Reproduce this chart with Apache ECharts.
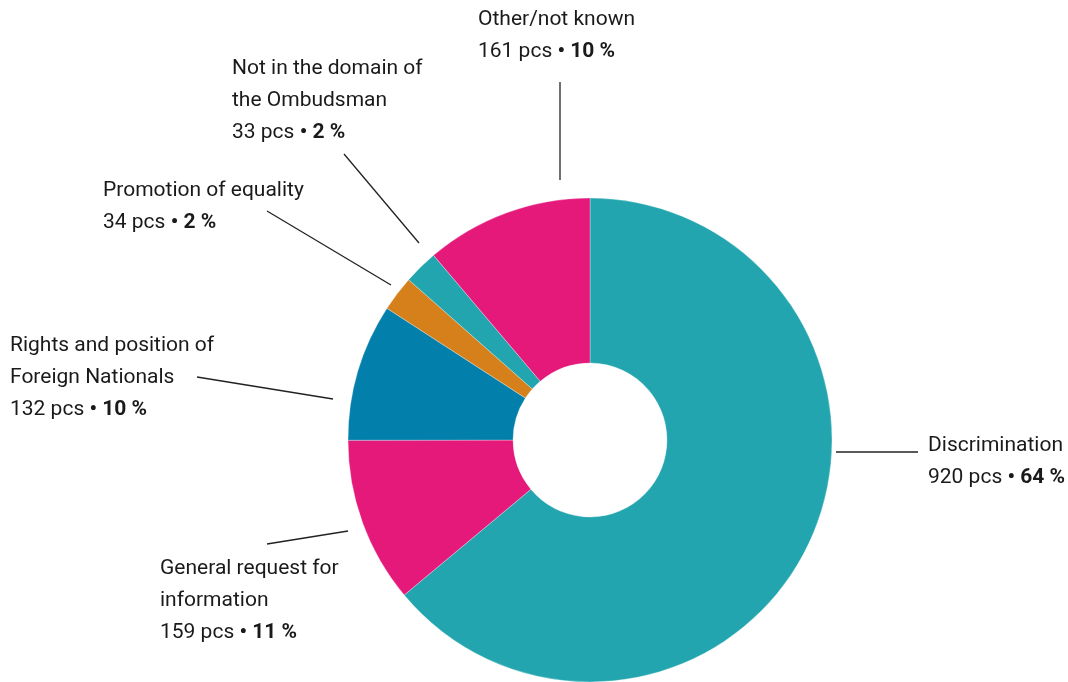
<!DOCTYPE html>
<html>
<head>
<meta charset="utf-8">
<script src="https://cdn.jsdelivr.net/npm/echarts@6/dist/echarts.min.js"></script>
<style>
  html, body { margin: 0; padding: 0; background: #fff; }
  #chart { width: 1068px; height: 682px; }
</style>
</head>
<body>
<div id="chart"></div>
<script>
// slices clockwise from 12 o'clock
const categories = ['Discrimination', 'General request for information', 'Rights and position of Foreign Nationals', 'Promotion of equality', 'Not in the domain of the Ombudsman', 'Other/not known']
const labelNames = ['Discrimination', 'General request for\ninformation', 'Rights and position of\nForeign Nationals', 'Promotion of equality', 'Not in the domain of\nthe Ombudsman', 'Other/not known']
const counts = [920, 159, 132, 34, 33, 161]
const shares = ['64 %', '11 %', '10 %', '2 %', '2 %', '10 %']
const colors = ['#22a5ae', '#e4197a', '#037fab', '#d5801b', '#22a5ae', '#e4197a']

// label block top-left + leader line, by slice
const labelPos = [
  { x: 928, y: 430, line: [[836, 452], [918, 452]] },
  { x: 160, y: 553, line: [[348, 531], [267, 544]] },
  { x: 10, y: 330, line: [[333, 399], [197, 377]] },
  { x: 103, y: 175, line: [[391, 285], [267, 211]] },
  { x: 232, y: 53, line: [[419, 243], [344, 154]] },
  { x: 478, y: 4, line: [[560, 180], [560, 82]] },
]

const chart = echarts.init(document.getElementById('chart'))

const txt = { fontSize: 21, lineHeight: 32, color: '#1a1a1a', fontFamily: 'Roboto' }

const option = {
  animation: false,
  textStyle: { fontFamily: 'Roboto' },
  series: [{
    type: 'pie',
    center: [590, 440],
    radius: [77, 242],
    startAngle: 90,
    clockwise: true,
    avoidLabelOverlap: false,
    itemStyle: { borderColor: '#fff', borderWidth: 0.3 },
    label: {
      show: true,
      position: 'outside',
      formatter: (p) => '{n|' + labelNames[p.dataIndex].split('\n').join('}\n{n|') + '}\n{n|' + counts[p.dataIndex] + ' pcs }{b|• ' + shares[p.dataIndex] + '}',
      rich: {
        n: txt,
        b: Object.assign({}, txt, { fontWeight: 'bold' }),
      },
    },
    labelLine: { show: true, lineStyle: { color: '#222', width: 1.3 } },
    labelLayout: (params) => {
      const pos = labelPos[params.dataIndex]
      return { x: pos.x, y: pos.y, align: 'left', verticalAlign: 'top', labelLinePoints: pos.line }
    },
    emphasis: { disabled: true },
    data: categories.map((name, i) => ({ name, value: counts[i], itemStyle: { color: colors[i] } })),
  }],
}

chart.setOption(option)
</script>
</body>
</html>
